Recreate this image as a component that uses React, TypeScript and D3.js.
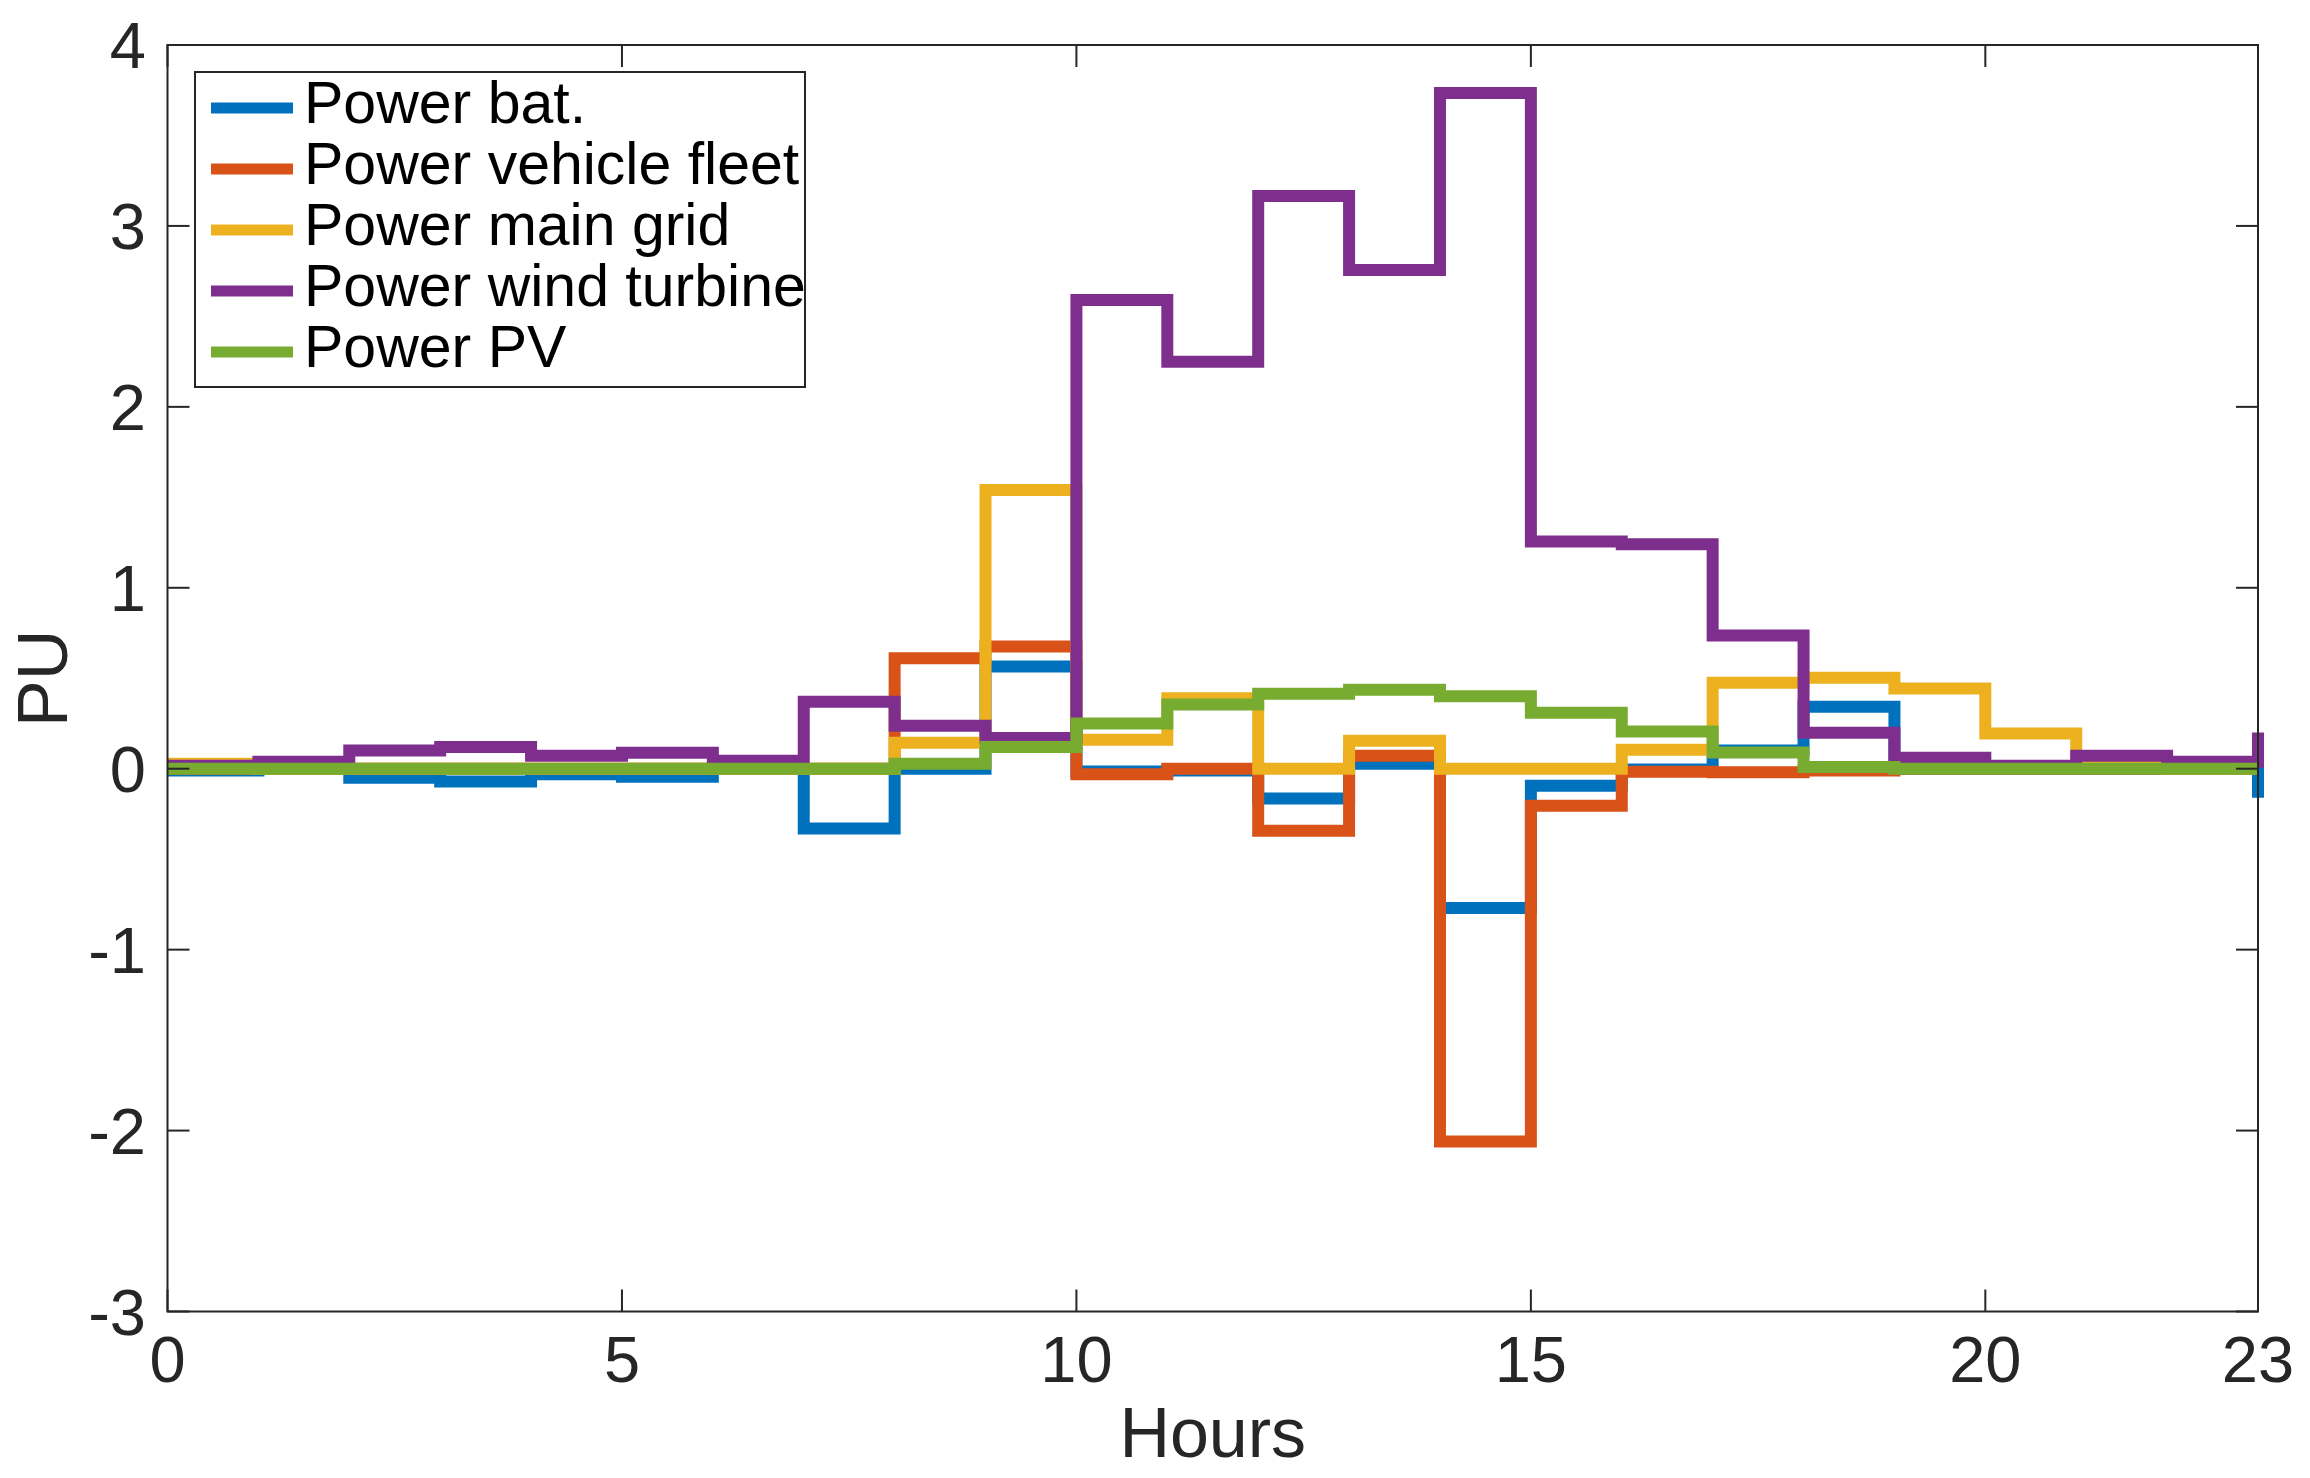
import * as d3 from "d3";

const hours = [0, 1, 2, 3, 4, 5, 6, 7, 8, 9, 10, 11, 12, 13, 14, 15, 16, 17, 18, 19, 20, 21, 22, 23];

const powerBat = [-0.01, 0, -0.05, -0.07, -0.03, -0.045, 0, -0.33, 0, 0.565, -0.015, -0.01, -0.165, 0.028, -0.77, -0.094, -0.005, 0.1, 0.343, 0, 0, 0, 0, -0.16];
const powerVehicle = [0, 0, 0, 0, 0, 0, 0, 0, 0.61, 0.675, -0.03, 0, -0.343, 0.072, -2.06, -0.205, -0.017, -0.02, -0.01, 0, 0, 0, 0, 0];
const powerGrid = [0.028, 0, 0, 0, 0, 0, 0, 0, 0.144, 1.54, 0.16, 0.39, 0, 0.155, 0, 0, 0.105, 0.475, 0.503, 0.443, 0.194, 0.02, 0, 0];
const powerWind = [0.017, 0.039, 0.1, 0.12, 0.072, 0.088, 0.044, 0.37, 0.238, 0.17, 2.59, 2.25, 3.165, 2.756, 3.735, 1.256, 1.24, 0.736, 0.199, 0.061, 0.017, 0.072, 0.039, 0.2];
const powerPV = [0, 0, 0, 0, 0, 0, 0, 0, 0.028, 0.12, 0.25, 0.355, 0.415, 0.437, 0.4, 0.31, 0.205, 0.089, 0.01, 0, 0, 0, 0, 0];

const seriesNames = ["Power bat.", "Power vehicle fleet", "Power main grid", "Power wind turbine", "Power PV"];
const seriesColors = ["#0072BD", "#D95319", "#EDB120", "#7E2F8E", "#77AC30"];
const xTicks = [0, 5, 10, 15, 20, 23];
const yTicks = [-3, -2, -1, 0, 1, 2, 3, 4];

export default function App() {
  const W = 2310;
  const H = 1478;
  const left = 167.5;
  const right = 2258;
  const top = 45;
  const bottom = 1311.5;
  const axisColor = "#262626";
  const tickLen = 22;
  const font = "Arial, 'Liberation Sans', Helvetica, sans-serif";

  const x = d3.scaleLinear().domain([0, 23]).range([left, right]);
  const y = d3.scaleLinear().domain([-3, 4]).range([bottom, top]);

  const line = d3
    .line<number>()
    .x((_, i) => x(hours[i]))
    .y((d) => y(d))
    .curve(d3.curveStepAfter);

  const series = [powerBat, powerVehicle, powerGrid, powerWind, powerPV];

  // legend placement
  const lg = { x0: 195, y0: 72, x1: 805, y1: 387, row0: 108, rowStep: 61 };

  return (
    <svg
      width={W}
      height={H}
      style={{ position: "absolute", left: 0, top: 0, background: "#fff" }}
    >
      <rect x={0} y={0} width={W} height={H} fill="#fff" />

      {series.map((s, i) => (
        <path
          key={seriesNames[i]}
          d={line(s) || ""}
          fill="none"
          stroke={seriesColors[i]}
          strokeWidth={12}
          strokeLinejoin="miter"
          strokeLinecap="butt"
        />
      ))}

      {/* box */}
      <rect
        x={left}
        y={top}
        width={right - left}
        height={bottom - top}
        fill="none"
        stroke={axisColor}
        strokeWidth={2}
      />

      {/* x ticks, bottom and top */}
      {xTicks.map((t) => (
        <g key={"x" + t}>
          <line x1={x(t)} x2={x(t)} y1={bottom} y2={bottom - tickLen} stroke={axisColor} strokeWidth={2} />
          <line x1={x(t)} x2={x(t)} y1={top} y2={top + tickLen} stroke={axisColor} strokeWidth={2} />
          <text
            x={x(t)}
            y={1382}
            textAnchor="middle"
            fontFamily={font}
            fontSize={65}
            fill={axisColor}
          >
            {t}
          </text>
        </g>
      ))}

      {/* y ticks, left and right */}
      {yTicks.map((t) => (
        <g key={"y" + t}>
          <line x1={left} x2={left + tickLen} y1={y(t)} y2={y(t)} stroke={axisColor} strokeWidth={2} />
          <line x1={right} x2={right - tickLen} y1={y(t)} y2={y(t)} stroke={axisColor} strokeWidth={2} />
          <text
            x={146}
            y={y(t) + 23}
            textAnchor="end"
            fontFamily={font}
            fontSize={65}
            fill={axisColor}
          >
            {t}
          </text>
        </g>
      ))}

      <text
        x={(left + right) / 2}
        y={1457}
        textAnchor="middle"
        fontFamily={font}
        fontSize={70}
        fill={axisColor}
      >
        Hours
      </text>
      <text
        transform={`translate(67, ${(top + bottom) / 2}) rotate(-90)`}
        textAnchor="middle"
        fontFamily={font}
        fontSize={70}
        fill={axisColor}
      >
        PU
      </text>

      {/* legend */}
      <rect
        x={lg.x0}
        y={lg.y0}
        width={lg.x1 - lg.x0}
        height={lg.y1 - lg.y0}
        fill="#fff"
        stroke={axisColor}
        strokeWidth={2}
      />
      {seriesNames.map((name, i) => {
        const cy = lg.row0 + i * lg.rowStep;
        return (
          <g key={"lg" + name}>
            <line x1={211} x2={293} y1={cy} y2={cy} stroke={seriesColors[i]} strokeWidth={11} />
            <text x={304} y={cy + 15} fontFamily={font} fontSize={59} fill="#000">
              {name}
            </text>
          </g>
        );
      })}
    </svg>
  );
}
